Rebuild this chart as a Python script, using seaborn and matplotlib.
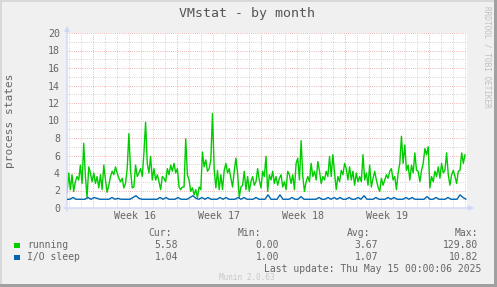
import matplotlib
matplotlib.use('Agg')
import matplotlib.pyplot as plt
import seaborn as sns
import pandas as pd
from matplotlib.patches import Rectangle

# ---------------- data ----------------
running = [1.7, 4.0, 2.1, 3.8, 1.9, 3.0, 3.6, 3.2, 4.9, 2.8, 7.4, 3.6, 1.2, 4.7, 4.0, 3.0,
           4.0, 2.8, 3.6, 2.3, 3.8, 2.1, 4.9, 3.2, 1.8, 2.6, 3.6, 4.2, 3.8, 4.7, 4.0, 3.4,
           3.0, 3.4, 2.3, 2.8, 4.5, 8.5, 4.3, 2.3, 2.4, 4.9, 3.6, 4.0, 4.5, 3.6, 6.3, 9.8,
           5.1, 4.0, 5.9, 3.2, 4.5, 3.2, 3.8, 3.0, 2.1, 3.6,
           3.4, 3.0, 4.5, 3.8, 4.9, 4.2, 5.1, 4.0, 4.5, 2.4, 2.1, 2.4, 2.4, 7.9, 3.8, 3.2,
           1.9, 2.3, 1.5, 2.1, 1.2, 2.4, 2.1, 6.4, 4.7, 5.5, 4.2, 4.5, 5.5, 10.8, 4.5, 2.3,
           4.3, 2.1, 3.8, 2.1, 4.3, 5.1, 4.0, 4.5, 3.4, 2.4, 4.2, 5.7, 4.0, 1.2, 2.4, 2.6,
           4.2, 2.1, 3.6, 1.9, 3.0, 3.6, 2.6, 3.0, 4.5,
           3.2, 2.3, 4.2, 3.6, 5.9, 1.9, 3.8, 3.2, 4.2, 2.8, 3.6, 2.6, 3.4, 3.8, 2.4, 3.0,
           2.1, 4.2, 3.8, 2.8, 3.8, 2.1, 5.1, 5.7, 3.2, 7.7, 3.6, 1.9, 3.0, 3.6, 3.0, 5.1,
           3.6, 4.2, 3.2, 5.3, 4.2, 2.8, 3.6, 3.2, 4.2, 3.6, 5.9, 3.6, 6.1, 4.0, 2.1, 3.6,
           3.0, 4.3, 3.8, 5.1, 4.5, 3.2, 4.7, 3.2, 4.2, 2.6, 4.0, 3.0,
           3.6, 3.0, 6.1, 3.2, 4.0, 2.6, 4.9, 2.4, 3.4, 4.2, 3.2, 2.4, 1.9, 3.4, 2.6, 3.2,
           3.8, 3.4, 4.2, 4.5, 3.2, 3.6, 2.1, 4.0, 5.1, 8.2, 5.1, 7.2, 4.3, 4.9, 3.2, 4.9,
           4.0, 6.3, 4.3, 4.2, 3.0, 4.3, 5.1, 6.8, 6.1, 7.0, 2.3, 3.6, 3.0, 4.2, 3.6, 4.7,
           3.4, 5.1, 4.0, 4.3, 6.3, 3.8, 2.6, 3.8, 4.3, 3.6, 2.8, 4.2, 4.3, 6.3, 5.1, 6.1]

io_sleep = [1.0, 1.0, 1.2, 1.0, 1.0, 1.0, 1.0, 1.2, 1.0, 1.2, 1.1, 1.0, 1.0, 1.0, 1.0, 1.2,
            1.0, 1.1, 1.0, 1.0, 1.0, 1.0, 1.2, 1.4, 1.1, 1.0, 1.0, 1.0, 1.0, 1.0, 1.0, 1.2,
            1.0, 1.2, 1.0, 1.0, 1.0, 1.2, 1.0, 1.0, 1.0, 1.2, 1.4, 1.1, 1.0, 1.2, 1.0, 1.2,
            1.0, 1.0, 1.0, 1.2, 1.0, 1.2, 1.0, 1.0, 1.0, 1.2, 1.0, 1.2, 1.0, 1.0, 1.0, 1.2,
            1.0, 1.0, 1.0, 1.5, 1.0, 1.0, 1.0, 1.5, 1.0, 1.0, 1.0, 1.2, 1.0, 1.0, 1.3, 1.0,
            1.0, 1.0, 1.0, 1.0, 1.2, 1.0, 1.0, 1.2, 1.0, 1.2, 1.0, 1.2, 1.0, 1.0, 1.2, 1.0,
            1.0, 1.2, 1.0, 1.4, 1.0, 1.0, 1.0, 1.2, 1.0, 1.0, 1.0, 1.2, 1.0, 1.2, 1.0, 1.0,
            1.0, 1.2, 1.0, 1.2, 1.0, 1.0, 1.0, 1.0, 1.3, 1.0, 1.0, 1.2, 1.0, 1.0, 1.0, 1.2,
            1.0, 1.0, 1.0, 1.5, 1.2, 1.0]

week_labels = ['Week 16', 'Week 17', 'Week 18', 'Week 19']
week_mids = ['2025-04-17 12:00', '2025-04-24 12:00', '2025-05-01 12:00', '2025-05-08 12:00']
y_ticks = [0, 2, 4, 6, 8, 10, 12, 14, 16, 18, 20]

series_names = ['running', 'I/O sleep']
series_colors = ['#00CC00', '#0066B3']
cur_vals = ['5.58', '1.04']
min_vals = ['0.00', '1.00']
avg_vals = ['3.67', '1.07']
max_vals = ['129.80', '10.82']

title = 'VMstat - by month'
ylabel = 'process states'
last_update = 'Last update: Thu May 15 00:00:06 2025'

# ---------------- figure ----------------
sns.set_theme(style='white')
plt.rcParams['font.family'] = ['DejaVu Sans Mono']
FONT = '#666666'

W, H = 497, 287
fig = plt.figure(figsize=(W / 100, H / 100), dpi=100, facecolor='#F0F0F0')


def fx(x):
    return x / W


def fy(y):
    return 1 - y / H


ax = fig.add_axes([fx(67), fy(208), fx(400), 175 / H])
ax.set_facecolor('white')

start = pd.Timestamp('2025-04-11 21:00')
end = start + pd.Timedelta(hours=800)
t_run = pd.date_range(start, start + pd.Timedelta(hours=2 * 398), periods=len(running))
t_io = pd.date_range(start, start + pd.Timedelta(hours=2 * 399), periods=len(io_sleep))

dots = (0, (0.72, 1.44))
for d in pd.date_range('2025-04-12', '2025-05-15', freq='D'):
    if d.dayofweek == 0:
        ax.axvline(d, color='#E8A0A0', lw=0.72, ls=dots, zorder=1)
    else:
        ax.axvline(d, color='#C8C8C8', lw=0.72, ls=dots, zorder=1)
for v in range(1, 21):
    if v % 2 == 0:
        ax.axhline(v, color='#E8A0A0', lw=0.72, ls=dots, zorder=1)
    else:
        ax.axhline(v, color='#C8C8C8', lw=0.72, ls=dots, zorder=1)

df_run = pd.DataFrame({'t': t_run, 'v': running})
df_io = pd.DataFrame({'t': t_io, 'v': io_sleep})
sns.lineplot(data=df_run, x='t', y='v', ax=ax, color=series_colors[0], lw=1.0, zorder=3)
sns.lineplot(data=df_io, x='t', y='v', ax=ax, color=series_colors[1], lw=1.0, zorder=4)

ax.set_xlim(start, end)
ax.set_ylim(0, 20)
for s in ax.spines.values():
    s.set_visible(False)
ax.set_xlabel('')
ax.set_ylabel('')
ax.set_yticks(y_ticks)
ax.set_yticklabels([str(v) for v in y_ticks])
ax.set_xticks(pd.to_datetime(week_mids))
ax.set_xticklabels(week_labels)
ax.tick_params(axis='y', length=0, pad=5, labelsize=7.2, labelcolor=FONT)
ax.tick_params(axis='x', length=0, pad=2, labelsize=7.2, labelcolor=FONT)
ax.grid(False)

# axis arrows
AX = '#CFD6F8'
ax.annotate('', xy=(fx(474), fy(208)), xytext=(fx(64), fy(208)), xycoords='figure fraction',
            arrowprops=dict(arrowstyle='-|>', color=AX, lw=1, mutation_scale=7, shrinkA=0, shrinkB=0))
ax.annotate('', xy=(fx(67), fy(26)), xytext=(fx(67), fy(211)), xycoords='figure fraction',
            arrowprops=dict(arrowstyle='-|>', color=AX, lw=1, mutation_scale=7, shrinkA=0, shrinkB=0))

# title and labels
fig.text(fx(247), fy(14), title, ha='center', va='center', fontsize=9.5, color='#555555')
fig.text(fx(10), fy(121), ylabel, ha='center', va='center', rotation=90, fontsize=8, color=FONT)
fig.text(fx(487), fy(6), 'RRDTOOL / TOBI OETIKER', ha='center', va='top', rotation=270,
         fontsize=5.6, color='#C0C0C0')

# legend
fs = 7.0
fig.text(fx(172), fy(233), 'Cur:', ha='right', va='center', fontsize=fs, color=FONT)
fig.text(fx(261), fy(233), 'Min:', ha='right', va='center', fontsize=fs, color=FONT)
fig.text(fx(370), fy(233), 'Avg:', ha='right', va='center', fontsize=fs, color=FONT)
fig.text(fx(478), fy(233), 'Max:', ha='right', va='center', fontsize=fs, color=FONT)
rows_y = [245.5, 257.5]
for i, name in enumerate(series_names):
    yy = rows_y[i]
    fig.patches.append(Rectangle((fx(14), fy(yy + 2.7)), fx(5.5), 5.5 / H, transform=fig.transFigure,
                                 facecolor=series_colors[i], edgecolor='none'))
    fig.text(fx(27), fy(yy), name, ha='left', va='center', fontsize=fs, color=FONT)
    fig.text(fx(178), fy(yy), cur_vals[i], ha='right', va='center', fontsize=fs, color=FONT)
    fig.text(fx(279), fy(yy), min_vals[i], ha='right', va='center', fontsize=fs, color=FONT)
    fig.text(fx(378), fy(yy), avg_vals[i], ha='right', va='center', fontsize=fs, color=FONT)
    fig.text(fx(478), fy(yy), max_vals[i], ha='right', va='center', fontsize=fs, color=FONT)
fig.text(fx(481), fy(268.5), last_update, ha='right', va='center', fontsize=fs, color=FONT)
fig.text(fx(247), fy(277), 'Munin 2.0.63', ha='center', va='center', fontsize=5.6, color='#C8C8C8')

# frame shading
fig.patches.append(Rectangle((0, fy(2)), 1, 2 / H, transform=fig.transFigure, facecolor='#D8D8D8', edgecolor='none'))
fig.patches.append(Rectangle((0, 0), fx(2), 1, transform=fig.transFigure, facecolor='#D8D8D8', edgecolor='none'))
fig.patches.append(Rectangle((fx(494), 0), fx(3), 1, transform=fig.transFigure, facecolor='#A0A0A0', edgecolor='none'))
fig.patches.append(Rectangle((0, 0), 1, 3 / H, transform=fig.transFigure, facecolor='#A0A0A0', edgecolor='none'))

fig.savefig('out.png', dpi=100, facecolor=fig.get_facecolor())
